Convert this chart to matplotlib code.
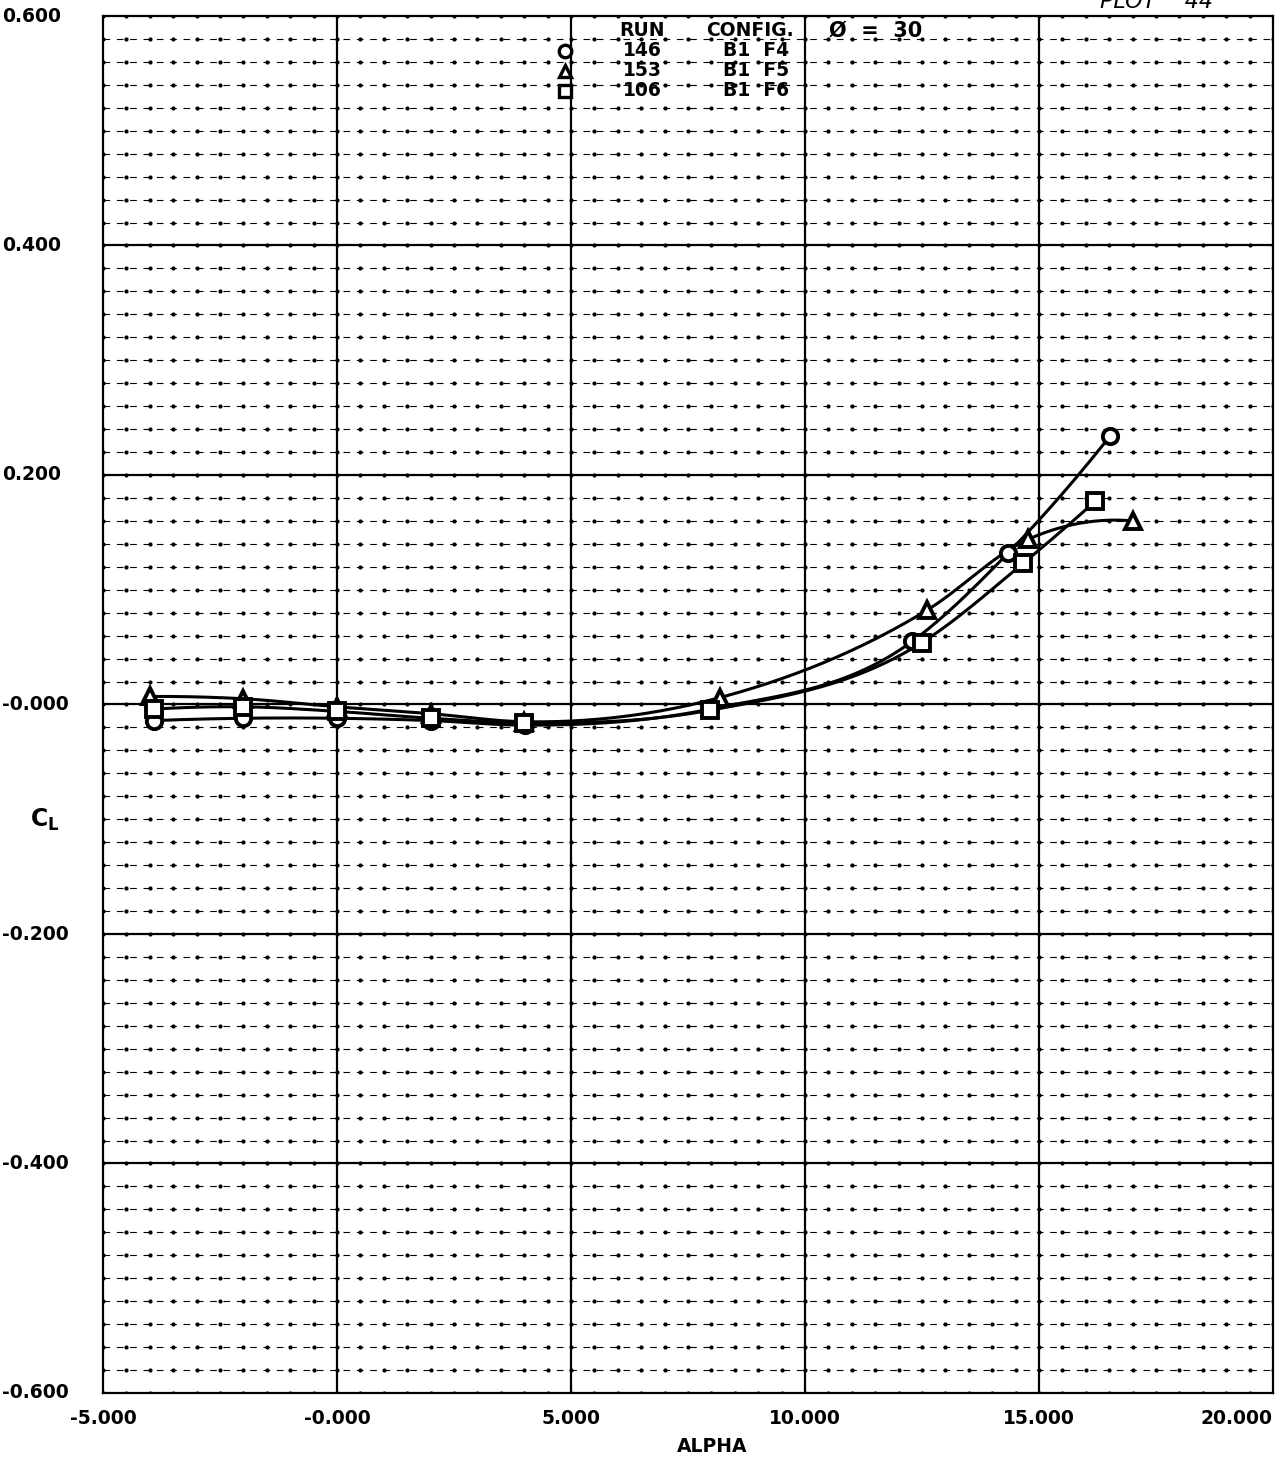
import numpy as np
import matplotlib.pyplot as plt

# CL vs ALPHA, phi = 30, three runs (B1 with flaps F4/F5/F6)
alpha_146 = [-3.9, -2.0, 0.0, 2.0, 4.02, 7.97, 12.29, 14.34, 16.52]
cl_146 = [-0.014, -0.012, -0.012, -0.014, -0.018, -0.004, 0.055, 0.132, 0.234]

alpha_153 = [-4.0, -2.0, 0.0, 2.0, 4.0, 8.18, 12.6, 14.77, 17.0]
cl_153 = [0.007, 0.005, -0.002, -0.008, -0.015, 0.006, 0.082, 0.144, 0.160]

alpha_106 = [-3.9, -2.0, 0.0, 2.0, 4.0, 7.97, 12.5, 14.66, 16.2]
cl_106 = [-0.004, -0.002, -0.006, -0.012, -0.016, -0.005, 0.054, 0.123, 0.177]

runs = ["146", "153", "106"]
configs = ["B1  F4", "B1  F5", "B1  F6"]
markers = ["o", "^", "s"]

x_ticks = [-5, 0, 5, 10, 15, 20]
x_tick_labels = ["-5.000", "-0.000", "5.000", "10.000", "15.000", "20.000"]
y_ticks = [0.6, 0.4, 0.2, 0.0, -0.2, -0.4, -0.6]
y_tick_labels = ["0.600", "0.400", "0.200", "-0.000", "-0.200", "-0.400", "-0.600"]

W, H = 1280, 1460
X0, X1, Y0, Y1 = 103, 1273, 16, 1393   # plot frame in pixels


def px_x(p):
    return -5 + (p - X0) * 25.0 / (X1 - X0)


def px_y(p):
    return 0.6 - (p - Y0) * 1.2 / (Y1 - Y0)


def smooth(x, y, n=30):
    # faired curve: cubic hermite in x with blended slopes
    x = np.asarray(x, float)
    y = np.asarray(y, float)
    h = np.diff(x)
    d = np.diff(y) / h
    m = np.empty_like(y)
    m[1:-1] = (d[:-1] * h[1:] + d[1:] * h[:-1]) / (h[:-1] + h[1:])
    m[0] = 2 * d[0] - m[1]
    m[-1] = 2 * d[-1] - m[-2]
    xs, ys = [], []
    t = np.linspace(0, 1, n, endpoint=False)
    for i in range(len(x) - 1):
        h00 = 2 * t ** 3 - 3 * t ** 2 + 1
        h10 = t ** 3 - 2 * t ** 2 + t
        h01 = -2 * t ** 3 + 3 * t ** 2
        h11 = t ** 3 - t ** 2
        xs.append(x[i] + t * h[i])
        ys.append(h00 * y[i] + h10 * h[i] * m[i] + h01 * y[i + 1] + h11 * h[i] * m[i + 1])
    xs.append([x[-1]])
    ys.append([y[-1]])
    return np.concatenate(xs), np.concatenate(ys)


fig = plt.figure(figsize=(W / 100, H / 100), dpi=100)
ax = fig.add_axes([X0 / W, 1 - Y1 / H, (X1 - X0) / W, (Y1 - Y0) / H])
ax.set_xlim(-5, 20)
ax.set_ylim(-0.6, 0.6)

# grid: solid majors, dashed minors with plotter dots at each intersection
for yv in np.arange(-0.58, 0.6, 0.02):
    if abs(round(yv / 0.2) * 0.2 - yv) < 1e-6:
        ax.axhline(yv, color="black", lw=1.6, zorder=1)
    else:
        ax.axhline(yv, color="black", lw=0.8, ls=(0, (6, 6)), zorder=1)
for xv in [0, 5, 10, 15]:
    ax.axvline(xv, color="black", lw=1.6, zorder=1)
gx, gy = np.meshgrid(np.arange(-5, 20.01, 0.5), np.arange(-0.6, 0.601, 0.02))
ax.scatter(gx.ravel(), gy.ravel(), s=9, color="black", marker="o", linewidths=0, zorder=1)

series = [(alpha_146, cl_146), (alpha_153, cl_153), (alpha_106, cl_106)]
for (xs, ys), m in zip(series, markers):
    sx, sy = smooth(xs, ys)
    ax.plot(sx, sy, color="black", lw=2.2, zorder=3)
    ax.plot(xs, ys, ls="none", marker=m, ms=11, mfc="white", mec="black", mew=2.8, zorder=4)

ax.set_xticks([])
ax.set_yticks([])
for s in ax.spines.values():
    s.set_linewidth(1.6)

tfont = dict(fontsize=13.5, fontweight="bold", family="DejaVu Sans")
for yv, lab in zip(y_ticks, y_tick_labels):
    ax.annotate(lab, xy=(2 / W, yv), xycoords=("figure fraction", "data"),
                ha="left", va="center", **tfont)
for xv, lab in zip(x_ticks, x_tick_labels):
    ax.annotate(lab, xy=(xv, 1 - 1419 / H), xycoords=("data", "figure fraction"),
                ha="right" if xv == 20 else "center", va="center", **tfont)

fig.text(712 / W, 1 - 1446 / H, "ALPHA", ha="center", va="center", **tfont)
fig.text(30 / W, 1 - 820 / H, r"$\mathbf{C_L}$", ha="left", va="center", fontsize=17)
fig.text(1100 / W, 1 - 2 / H, "PLOT    44", ha="left", va="center",
         fontsize=16, style="italic")

# run / config key inside the grid
head_y = px_y(31)
ax.text(px_x(642), head_y, "RUN", ha="center", va="center", **tfont)
ax.text(px_x(750), head_y, "CONFIG.", ha="center", va="center", **tfont)
ax.text(px_x(876), head_y, "Ø  =  30", ha="center", va="center",
        fontsize=15, fontweight="bold")
for i, (r, c, m) in enumerate(zip(runs, configs, markers)):
    yy = px_y(51 + 20 * i)
    ax.plot(px_x(565), yy, marker=m, ms=9, mfc="white", mec="black", mew=2.4,
            ls="none", zorder=4)
    ax.text(px_x(642), yy, r, ha="center", va="center", **tfont)
    ax.text(px_x(756), yy, c, ha="center", va="center", **tfont)

fig.savefig("out.png", dpi=100)
